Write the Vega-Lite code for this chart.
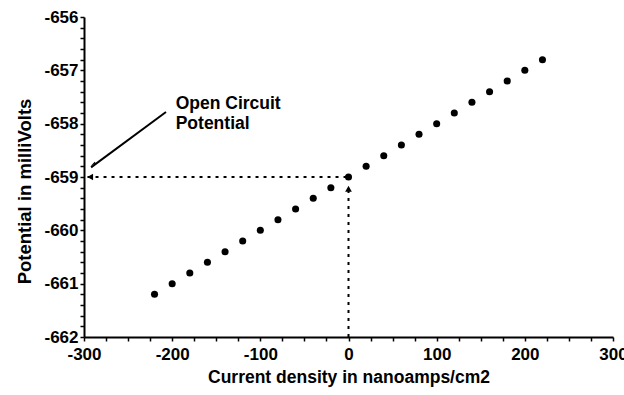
{
  "$schema": "https://vega.github.io/schema/vega-lite/v6.json",
  "width": 529,
  "height": 320,
  "autosize": "none",
  "padding": {"left": 84, "top": 17, "right": 11, "bottom": 58},
  "background": "white",
  "config": {"view": {"stroke": null}},
  "datasets": {
    "pts": [
      {"x": -220, "y": -661.2}, {"x": -200, "y": -661.0}, {"x": -180, "y": -660.8}, {"x": -160, "y": -660.6},
      {"x": -140, "y": -660.4}, {"x": -120, "y": -660.2}, {"x": -100, "y": -660.0}, {"x": -80, "y": -659.8},
      {"x": -60, "y": -659.6}, {"x": -40, "y": -659.4}, {"x": -20, "y": -659.2}, {"x": 0, "y": -659.0},
      {"x": 20, "y": -658.8}, {"x": 40, "y": -658.6}, {"x": 60, "y": -658.4}, {"x": 80, "y": -658.2},
      {"x": 100, "y": -658.0}, {"x": 120, "y": -657.8}, {"x": 140, "y": -657.6}, {"x": 160, "y": -657.4},
      {"x": 180, "y": -657.2}, {"x": 200, "y": -657.0}, {"x": 220, "y": -656.8}
    ],
    "dashed": [
      {"x": -296, "x2": 0, "y": -659.0, "y2": -659.0},
      {"x": 0, "x2": 0, "y": -662.0, "y2": -659.25}
    ],
    "solid": [
      {"x": -207, "x2": -292, "y": -657.78, "y2": -658.82}
    ],
    "heads": [
      {"x": -293, "y": -659.0, "shape": "triangle-left", "angle": 0},
      {"x": 0, "y": -659.22, "shape": "triangle-up", "angle": 0},
      {"x": -289, "y": -658.75, "shape": "wedge", "angle": 233}
    ],
    "labels": [
      {"x": -196, "y": -657.63, "text": "Open Circuit"},
      {"x": -196, "y": -658.0, "text": "Potential"}
    ]
  },
  "encoding": {
    "x": {"field": "x", "type": "quantitative", "scale": {"domain": [-300, 300], "nice": false, "zero": false},
      "axis": {"title": "Current density in nanoamps/cm2", "grid": false, "ticks": true, "tickSize": 4, "tickWidth": 1.5, "tickColor": "black",
        "domainColor": "black", "domainWidth": 2, "labelColor": "black", "titleColor": "black",
        "labelFont": "Liberation Sans", "titleFont": "Liberation Sans", "labelFontWeight": "bold", "titleFontWeight": "bold", "labelFontSize": 17, "titleFontSize": 17.5,
        "values": [-300,-275,-250,-225,-200,-175,-150,-125,-100,-75,-50,-25,0,25,50,75,100,125,150,175,200,225,250,275,300],
        "labelExpr": "datum.value % 100 === 0 ? '' + datum.value : ''", "labelOverlap": false, "labelFlush": false, "labelPadding": 5, "titlePadding": 6}},
    "y": {"field": "y", "type": "quantitative", "scale": {"domain": [-662, -656], "nice": false, "zero": false},
      "axis": {"title": "Potential in milliVolts", "grid": false, "ticks": true, "tickSize": 4, "tickWidth": 1.5, "tickColor": "black",
        "domainColor": "black", "domainWidth": 2, "labelColor": "black", "titleColor": "black",
        "labelFont": "Liberation Sans", "titleFont": "Liberation Sans", "labelFontWeight": "bold", "titleFontWeight": "bold", "labelFontSize": 17, "titleFontSize": 18.5,
        "titleY": 174, "titleAnchor": null,
        "values": [-662,-661.8,-661.6,-661.4,-661.2,-661,-660.8,-660.6,-660.4,-660.2,-660,-659.8,-659.6,-659.4,-659.2,-659,-658.8,-658.6,-658.4,-658.2,-658,-657.8,-657.6,-657.4,-657.2,-657,-656.8,-656.6,-656.4,-656.2,-656],
        "labelExpr": "abs(datum.value - round(datum.value)) < 0.01 ? '' + round(datum.value) : ''", "labelOverlap": false, "labelFlush": false, "labelPadding": 2, "titlePadding": 9}}
  },
  "layer": [
    {
      "data": {"name": "pts"},
      "mark": {"type": "point", "filled": true, "color": "black", "opacity": 1, "size": 50}
    },
    {
      "data": {"name": "dashed"},
      "mark": {"type": "rule", "color": "black", "strokeWidth": 2, "strokeDash": [3, 5]},
      "encoding": {"x2": {"field": "x2"}, "y2": {"field": "y2"}}
    },
    {
      "data": {"name": "solid"},
      "mark": {"type": "rule", "color": "black", "strokeWidth": 2},
      "encoding": {"x2": {"field": "x2"}, "y2": {"field": "y2"}}
    },
    {
      "data": {"name": "heads"},
      "mark": {"type": "point", "filled": true, "color": "black", "opacity": 1, "size": 45},
      "encoding": {"shape": {"field": "shape", "type": "nominal", "scale": null}, "angle": {"field": "angle", "type": "quantitative", "scale": null}}
    },
    {
      "data": {"name": "labels"},
      "mark": {"type": "text", "align": "left", "baseline": "middle", "fontSize": 17.5, "fontWeight": "bold", "font": "Liberation Sans", "color": "black"},
      "encoding": {"text": {"field": "text"}}
    }
  ]
}
